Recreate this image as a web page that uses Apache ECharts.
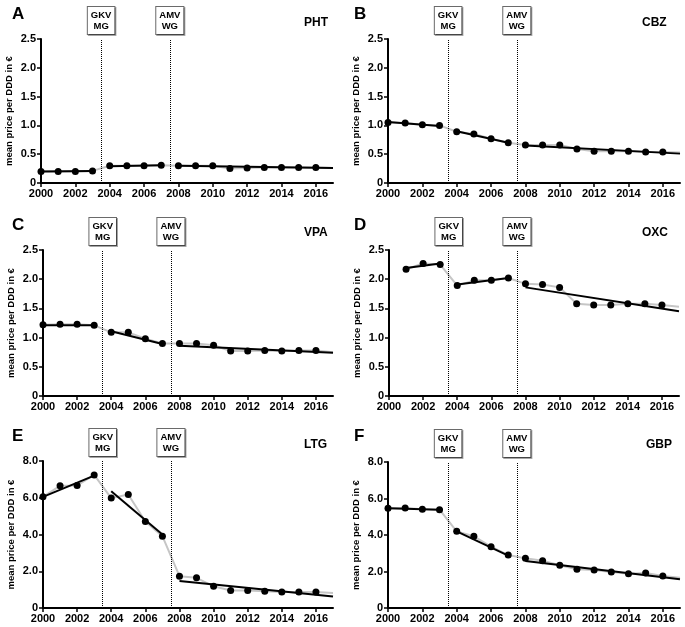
<!DOCTYPE html>
<html>
<head>
<meta charset="utf-8">
<script src="https://cdn.jsdelivr.net/npm/echarts@6/dist/echarts.min.js"></script>
<style>
    html, body { margin: 0; padding: 0; background: #fff; }
    #chart { width: 685px; height: 627px; }
</style>
</head>
<body>
<div id="chart"></div>
<script>
    // years with a data point (dots), the grey line runs on to 2017
    const years = [2000, 2001, 2002, 2003, 2004, 2005, 2006, 2007, 2008, 2009, 2010, 2011, 2012, 2013, 2014, 2015, 2016]
    const drugs = ['PHT', 'CBZ', 'VPA', 'OXC', 'LTG', 'GBP']
    const panelLetters = ['A', 'B', 'C', 'D', 'E', 'F']

    const phtPrice = [0.20, 0.20, 0.20, 0.21, 0.30, 0.30, 0.30, 0.31, 0.30, 0.30, 0.30, 0.25, 0.26, 0.27, 0.27, 0.27, 0.27]
    const cbzPrice = [1.05, 1.04, 1.01, 1.00, 0.89, 0.85, 0.77, 0.70, 0.66, 0.66, 0.66, 0.59, 0.55, 0.55, 0.55, 0.54, 0.54]
    const vpaPrice = [1.22, 1.23, 1.23, 1.21, 1.09, 1.09, 0.98, 0.90, 0.90, 0.90, 0.87, 0.77, 0.77, 0.78, 0.77, 0.78, 0.78]
    const oxcPrice = [null, 2.17, 2.27, 2.25, 1.89, 1.98, 1.98, 2.02, 1.92, 1.91, 1.86, 1.58, 1.56, 1.56, 1.58, 1.58, 1.56]
    const ltgPrice = [6.05, 6.65, 6.67, 7.24, 5.98, 6.18, 4.71, 3.91, 1.73, 1.64, 1.18, 0.95, 0.95, 0.91, 0.87, 0.87, 0.87]
    const gbpPrice = [5.46, 5.48, 5.41, 5.39, 4.20, 3.93, 3.36, 2.90, 2.72, 2.59, 2.34, 2.12, 2.08, 1.97, 1.88, 1.92, 1.75]

    // value of the grey line at 2017 (PHT..GBP)
    const greyEnd2017 = [0.26, 0.53, 0.75, 1.53, 0.82, 1.66]

    // regression segments: [fromYear, fromValue, toYear, toValue]
    const phtTrend = [[2000, 0.20, 2003, 0.21], [2004, 0.29, 2007, 0.31], [2008, 0.30, 2017, 0.26]]
    const cbzTrend = [[2000, 1.06, 2003, 0.99], [2004, 0.90, 2007, 0.70], [2008, 0.65, 2017, 0.51]]
    const vpaTrend = [[2000, 1.21, 2003, 1.21], [2004, 1.11, 2007, 0.89], [2008, 0.86, 2017, 0.74]]
    const oxcTrend = [[2001, 2.19, 2003, 2.27], [2004, 1.91, 2007, 2.02], [2008, 1.86, 2017, 1.45]]
    const ltgTrend = [[2000, 6.05, 2003, 7.20], [2004, 6.35, 2007, 4.00], [2008, 1.47, 2017, 0.63]]
    const gbpTrend = [[2000, 5.46, 2003, 5.38], [2004, 4.20, 2007, 2.87], [2008, 2.58, 2017, 1.57]]

    // policy dates
    const reforms = [[2003.5, 'GKV\nMG'], [2007.5, 'AMV\nWG']]

    const yTicksSmall = [0, 2.5, 0.5]   // min, max, interval
    const yTicksLarge = [0, 8, 2]

    const prices = [phtPrice, cbzPrice, vpaPrice, oxcPrice, ltgPrice, gbpPrice]
    const trends = [phtTrend, cbzTrend, vpaTrend, oxcTrend, ltgTrend, gbpTrend]

    const font = 'Liberation Sans, Arial, sans-serif'
    const grids = [
        { left: 41, top: 39, width: 292, height: 144 },
        { left: 388, top: 39, width: 292, height: 144 },
        { left: 43, top: 250, width: 290, height: 146 },
        { left: 389, top: 250, width: 290, height: 146 },
        { left: 43, top: 461, width: 290, height: 147 },
        { left: 388, top: 462, width: 292, height: 146 }
    ]
    const letterPos = [[7, 1], [349, 1], [7, 212], [349, 212], [7, 423], [349, 423]]
    const namePos = [[299, 12], [637, 12], [299, 222], [637, 222], [299, 434], [641, 434]]

    const title = []
    const xAxis = []
    const yAxis = []
    const series = []

    drugs.forEach((drug, i) => {
        title.push({
            text: panelLetters[i], left: letterPos[i][0], top: letterPos[i][1],
            textStyle: { fontFamily: font, fontSize: 17, fontWeight: 'bold', color: '#000' }
        })
        title.push({
            text: drug, left: namePos[i][0], top: namePos[i][1],
            textStyle: { fontFamily: font, fontSize: 12, fontWeight: 'bold', color: '#000' }
        })

        const axisLine = { show: true, lineStyle: { color: '#000', width: 2 } }
        const axisTick = { show: true, length: 4, lineStyle: { color: '#000', width: 1.5 } }
        const labelStyle = { fontFamily: font, fontSize: 11, fontWeight: 'bold', color: '#000' }

        xAxis.push({
            type: 'value', gridIndex: i, min: 2000, max: 2017, interval: 2,
            axisLine: axisLine, axisTick: axisTick, splitLine: { show: false },
            axisLabel: Object.assign({
                margin: 5, showMaxLabel: false,
                formatter: v => String(v)
            }, labelStyle)
        })
        const yt = i < 4 ? yTicksSmall : yTicksLarge
        yAxis.push({
            type: 'value', gridIndex: i, min: yt[0], max: yt[1], interval: yt[2],
            axisLine: axisLine, axisTick: axisTick, splitLine: { show: false },
            axisLabel: Object.assign({
                margin: 5,
                formatter: v => v === 0 ? '0' : v.toFixed(1)
            }, labelStyle),
            name: 'mean price per DDD in €', nameLocation: 'middle', nameGap: 27,
            nameTextStyle: { fontFamily: font, fontSize: 9.5, fontWeight: 'bold', color: '#000' }
        })

        // grey connecting line + the dotted reform lines
        const greyData = years.map((y, k) => [y, prices[i][k]]).filter(p => p[1] !== null)
        greyData.push([2017, greyEnd2017[i]])
        series.push({
            type: 'line', xAxisIndex: i, yAxisIndex: i, data: greyData,
            symbol: 'none', z: 1, silent: true,
            lineStyle: { color: '#c6c6c6', width: 2 },
            markLine: {
                silent: true, symbol: 'none',
                lineStyle: { type: 'dotted', color: '#000', width: 1 },
                label: {
                    show: true, position: 'end', distance: 5,
                    fontFamily: font, fontSize: 9.5, fontWeight: 'bold', color: '#000',
                    lineHeight: 11, backgroundColor: '#fff',
                    borderColor: '#6a6a6a', borderWidth: 1, padding: [3, 3, 2, 3],
                    shadowColor: 'rgba(0,0,0,0.35)', shadowOffsetX: 1, shadowOffsetY: 1
                },
                data: reforms.map(r => ({ xAxis: r[0], label: { formatter: r[1] } }))
            }
        })

        // regression segments
        trends[i].forEach(t => {
            series.push({
                type: 'line', xAxisIndex: i, yAxisIndex: i,
                data: [[t[0], t[1]], [t[2], t[3]]],
                symbol: 'none', z: 3, silent: true,
                lineStyle: { color: '#000', width: 2 }
            })
        })

        // yearly means
        series.push({
            type: 'scatter', xAxisIndex: i, yAxisIndex: i,
            data: years.map((y, k) => [y, prices[i][k]]).filter(p => p[1] !== null),
            symbolSize: 7, z: 4, silent: true,
            itemStyle: { color: '#000', opacity: 1 }
        })
    })

    const chart = echarts.init(document.getElementById('chart'), null, { renderer: 'canvas' })
    chart.setOption({
        animation: false,
        backgroundColor: '#fff',
        title: title,
        grid: grids,
        xAxis: xAxis,
        yAxis: yAxis,
        series: series
    })
    window.addEventListener('resize', () => {
        chart.resize()
    })
</script>
</body>
</html>
